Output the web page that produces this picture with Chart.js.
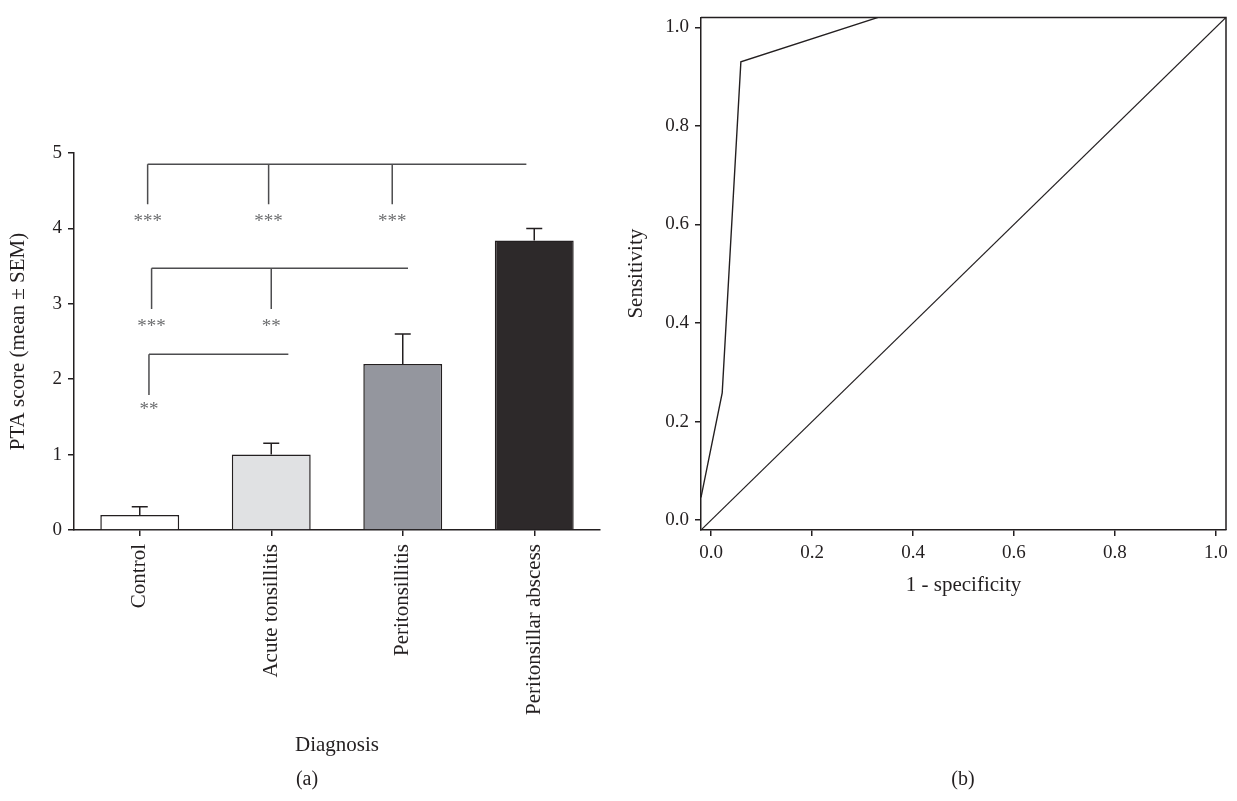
<!DOCTYPE html>
<html>
<head>
<meta charset="utf-8">
<script src="https://cdn.jsdelivr.net/npm/chart.js@4.4.1/dist/chart.umd.min.js"></script>
<style>
    body { margin: 0; background: #fff; }
    #wrap { position: relative; width: 1237px; height: 801px; overflow: hidden; }
    #bars { position: absolute; left: 0; top: 0; }
    #roc { position: absolute; left: 600px; top: 0; }
    .panel {
        position: absolute; top: 767px; width: 60px; margin-left: -30px;
        text-align: center; font: 20px "Liberation Serif", serif; color: #231f20;
    }
</style>
</head>
<body>
<div id="wrap">
    <canvas id="bars" width="610" height="801"></canvas>
    <canvas id="roc" width="637" height="801"></canvas>
    <div class="panel" style="left: 307px;">(a)</div>
    <div class="panel" style="left: 963px;">(b)</div>
</div>
<script>
// (a) PTA score by diagnosis
const categories = ['Control', 'Acute tonsillitis', 'Peritonsillitis', 'Peritonsillar abscess'];
const meanScore = [0.2, 1.0, 2.2, 3.84];
const semTop = [0.31, 1.15, 2.6, 4.0];   // mean + SEM
const scoreTicks = [0, 1, 2, 3, 4, 5];

// significance brackets, in category index / score units
const sigBarY = [4.85, 3.47, 2.33];
const sigStart = [0.06, 0.09, 0.07];
const sigEnd = [2.94, 2.04, 1.13];
const sigDrops = [[0.06, 0.98, 1.92], [0.09, 1.0], [0.07]];
const sigDropY = [4.32, 2.93, 1.79];
const sigMarks = [['***', '***', '***'], ['***', '**'], ['**']];
const sigMarkY = [4.14, 2.75, 1.65];

// (b) ROC curve
const rocFpr = [-0.02, 0.022, 0.059, 0.331, 1.02];
const rocTpr = [0.046, 0.258, 0.93, 1.02, 1.02];
const refFpr = [-0.02, 1.02];
const refTpr = [-0.02, 1.02];
const rocTicks = [0, 0.2, 0.4, 0.6, 0.8, 1.0];

const ink = '#231f20';
const serif = '"Liberation Serif", "Times New Roman", serif';

/*
*   Draws the SEM whiskers and the significance brackets
*/
const barExtras = {
    id: 'barExtras',
    afterDatasetsDraw(chart) {
        const ctx = chart.ctx;
        const x = chart.scales.x;
        const y = chart.scales.y;
        ctx.save();
        // error bars
        ctx.strokeStyle = ink;
        ctx.lineWidth = 1.5;
        semTop.forEach((top, i) => {
            const px = x.getPixelForValue(i);
            ctx.beginPath();
            ctx.moveTo(px, y.getPixelForValue(meanScore[i]));
            ctx.lineTo(px, y.getPixelForValue(top));
            ctx.moveTo(px - 8, y.getPixelForValue(top));
            ctx.lineTo(px + 8, y.getPixelForValue(top));
            ctx.stroke();
        });
        // brackets
        ctx.strokeStyle = '#4d4d4f';
        ctx.lineWidth = 1.5;
        ctx.fillStyle = '#6d6e70';
        ctx.font = '19px ' + serif;
        ctx.textAlign = 'center';
        ctx.textBaseline = 'alphabetic';
        sigBarY.forEach((level, k) => {
            const py = y.getPixelForValue(level);
            ctx.beginPath();
            ctx.moveTo(x.getPixelForValue(sigStart[k]), py);
            ctx.lineTo(x.getPixelForValue(sigEnd[k]), py);
            sigDrops[k].forEach(d => {
                ctx.moveTo(x.getPixelForValue(d), py);
                ctx.lineTo(x.getPixelForValue(d), y.getPixelForValue(sigDropY[k]));
            });
            ctx.stroke();
            sigDrops[k].forEach((d, j) => {
                ctx.fillText(sigMarks[k][j], x.getPixelForValue(d), y.getPixelForValue(sigMarkY[k]) + 9);
            });
        });
        ctx.restore();
    }
};

new Chart(document.getElementById('bars').getContext('2d'), {
    type: 'bar',
    data: {
        labels: categories,
        datasets: [{
            data: meanScore,
            backgroundColor: ['#ffffff', '#e0e1e3', '#94969e', '#2d292a'],
            borderColor: ink,
            borderWidth: 1.5,
            barPercentage: 0.6,
            categoryPercentage: 1
        }]
    },
    options: {
        responsive: false,
        animation: false,
        layout: { padding: { left: 0, right: 10, top: 153, bottom: 0 } },
        plugins: { legend: { display: false }, tooltip: { enabled: false } },
        scales: {
            x: {
                afterFit: s => { s.height = 271; },
                grid: { offset: false, drawOnChartArea: false, tickLength: 6, color: ink, lineWidth: 1.5 },
                border: { color: ink, width: 1.5 },
                ticks: { minRotation: 90, maxRotation: 90, autoSkip: false, padding: 8, color: ink, font: { family: serif, size: 21 } },
                title: { display: true, text: 'Diagnosis', color: ink, font: { family: serif, size: 21 }, padding: { top: 0, bottom: 43 } }
            },
            y: {
                min: 0,
                max: 5,
                afterFit: s => { s.width = 74; },
                afterBuildTicks: s => { s.ticks = scoreTicks.map(v => ({ value: v })); },
                grid: { drawOnChartArea: false, tickLength: 6, color: ink, lineWidth: 1.5 },
                border: { color: ink, width: 1.5 },
                ticks: { padding: 6, color: ink, font: { family: serif, size: 19 } },
                title: { display: true, text: 'PTA score (mean ± SEM)', color: ink, font: { family: serif, size: 21 }, padding: { top: 6, bottom: 0 } }
            }
        }
    },
    plugins: [barExtras]
});

/*
*   Closes the ROC frame on top and right
*/
const frame = {
    id: 'frame',
    afterDraw(chart) {
        const a = chart.chartArea;
        const ctx = chart.ctx;
        ctx.save();
        ctx.strokeStyle = ink;
        ctx.lineWidth = 1.5;
        ctx.beginPath();
        ctx.moveTo(a.left, a.top);
        ctx.lineTo(a.right, a.top);
        ctx.lineTo(a.right, a.bottom);
        ctx.stroke();
        ctx.restore();
    }
};

new Chart(document.getElementById('roc').getContext('2d'), {
    type: 'scatter',
    data: {
        datasets: [
            {
                data: rocFpr.map((v, i) => ({ x: v, y: rocTpr[i] })),
                showLine: true,
                borderColor: ink,
                borderWidth: 1.4,
                pointRadius: 0
            },
            {
                data: refFpr.map((v, i) => ({ x: v, y: refTpr[i] })),
                showLine: true,
                borderColor: ink,
                borderWidth: 1.2,
                pointRadius: 0
            }
        ]
    },
    options: {
        responsive: false,
        animation: false,
        layout: { padding: { left: 0, right: 11, top: 6, bottom: 0 } },
        plugins: { legend: { display: false }, tooltip: { enabled: false } },
        scales: {
            x: {
                type: 'linear',
                min: -0.02,
                max: 1.02,
                afterFit: s => { s.height = 271; },
                afterBuildTicks: s => { s.ticks = rocTicks.map(v => ({ value: v })); },
                grid: { drawOnChartArea: false, tickLength: 6, color: ink, lineWidth: 1.5 },
                border: { color: ink, width: 1.5 },
                ticks: { padding: 6, color: ink, font: { family: serif, size: 19 }, callback: v => v.toFixed(1) },
                title: { display: true, text: '1 - specificity', color: ink, font: { family: serif, size: 21 }, padding: { top: 0, bottom: 203 } }
            },
            y: {
                min: -0.02,
                max: 1.02,
                afterFit: s => { s.width = 101; },
                afterBuildTicks: s => { s.ticks = rocTicks.map(v => ({ value: v })); },
                grid: { drawOnChartArea: false, tickLength: 6, color: ink, lineWidth: 1.5 },
                border: { color: ink, width: 1.5 },
                ticks: { padding: 6, color: ink, font: { family: serif, size: 19 }, callback: v => v.toFixed(1) },
                title: { display: true, text: 'Sensitivity', color: ink, font: { family: serif, size: 21 }, padding: { top: 24, bottom: 0 } }
            }
        }
    },
    plugins: [frame]
});
</script>
</body>
</html>
